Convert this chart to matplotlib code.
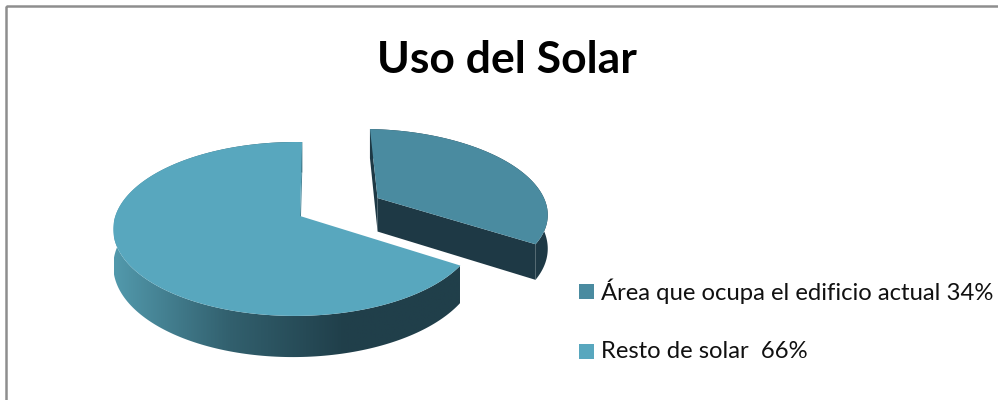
import numpy as np
import matplotlib
matplotlib.use('Agg')
import matplotlib.pyplot as plt
from matplotlib.colors import LinearSegmentedColormap
from matplotlib.patches import Polygon, Rectangle

titulo = 'Uso del Solar'
categorias = ['Área que ocupa el edificio actual 34%', 'Resto de solar  66%']
valores = [34, 66]
colores = ['#4A8BA0', '#58A7BE']

# forma del pastel 3D, en pixeles de la imagen
cx, cy = 300, 216
rx, ry = 180, 85
p, q = 0.149, 0.025
alto = 35
inicio = 0.8
explosion = 0.47
ajuste_x = 0.035

plt.rcParams['font.family'] = ['Lato', 'DejaVu Sans']
fig = plt.figure(figsize=(9.98, 4), dpi=100)
ax = fig.add_axes([0, 0, 1, 1])


def proyecta(X, Y, abajo=0):
    s = 1 / (1 + p * Y + q * X)
    return np.column_stack([cx + rx * X * s, cy - ry * Y * s + alto * s * abajo])


def porcion(a0, a1, dx=0, dy=0):
    ang = np.radians(np.linspace(a0, a1, 200))
    return np.sin(ang) + dx, np.cos(ang) + dy


# marco del grafico
ax.add_patch(Rectangle((6.5, 5.5), 1100, 500, fill=False, edgecolor='#8E8E8E', linewidth=1.8))

# porcion grande (resto de solar)
a0 = inicio + valores[0] * 3.6
a1 = inicio + 360
X, Y = porcion(a0, a1)
borde_arriba = proyecta(X, Y)
borde_abajo = proyecta(X, Y, 1)
lateral = Polygon(np.vstack([borde_arriba, borde_abajo[::-1]]), closed=True, facecolor='none', edgecolor='none')
ax.add_patch(lateral)
cmap = LinearSegmentedColormap.from_list('lado', ['#5299AC', '#32606E', '#203F4A', '#213F4A'], N=256)
img = ax.imshow(np.linspace(0, 1, 256).reshape(1, -1), cmap=cmap, extent=[114, 460, 360, 140], aspect='auto', zorder=2)
img.set_clip_path(lateral)

pared = [proyecta(np.array([0, X[-1]]), np.array([0, Y[-1]])),
         proyecta(np.array([X[-1], 0]), np.array([Y[-1], 0]), 1)]
ax.add_patch(Polygon(np.vstack(pared), closed=True, facecolor='#3F7F92', edgecolor='none', zorder=3))
cara = np.vstack([proyecta(np.array([0]), np.array([0])), borde_arriba])
ax.add_patch(Polygon(cara, closed=True, facecolor=colores[1], edgecolor='none', zorder=4))

# porcion separada (edificio actual)
b0 = inicio
b1 = inicio + valores[0] * 3.6
medio = np.radians((b0 + b1) / 2)
dx, dy = explosion * np.sin(medio) + ajuste_x, explosion * np.cos(medio)
X2, Y2 = porcion(b0, b1, dx, dy)
oscuro = '#1E3945'
arriba2 = proyecta(X2, Y2)
abajo2 = proyecta(X2, Y2, 1)
ax.add_patch(Polygon(np.vstack([arriba2, abajo2[::-1]]), closed=True, facecolor=oscuro, edgecolor='none', zorder=5))
ape_a = proyecta(np.array([dx]), np.array([dy]))
ape_b = proyecta(np.array([dx]), np.array([dy]), 1)
ax.add_patch(Polygon(np.vstack([ape_a, arriba2[:1], abajo2[:1], ape_b]), closed=True, facecolor=oscuro, edgecolor='none', zorder=5))
ax.add_patch(Polygon(np.vstack([ape_a, arriba2[-1:], abajo2[-1:], ape_b]), closed=True, facecolor=oscuro, edgecolor='none', zorder=5))
ax.add_patch(Polygon(np.vstack([ape_a, arriba2]), closed=True, facecolor=colores[0], edgecolor='none', zorder=6))

# titulo y leyenda
ax.text(507, 60, titulo, fontsize=32, fontweight='bold', color='black', ha='center', va='center')
for i, nombre in enumerate(categorias):
    y = 291.5 + i * 60
    ax.add_patch(Rectangle((579, y - 7.5), 15, 15, facecolor=colores[i], edgecolor='none'))
    ax.text(601, y, nombre, fontsize=17.2, color='#111111', ha='left', va='center')

ax.set_xlim(0, 998)
ax.set_ylim(400, 0)
ax.axis('off')
fig.savefig('out.png', dpi=100, facecolor='white')
